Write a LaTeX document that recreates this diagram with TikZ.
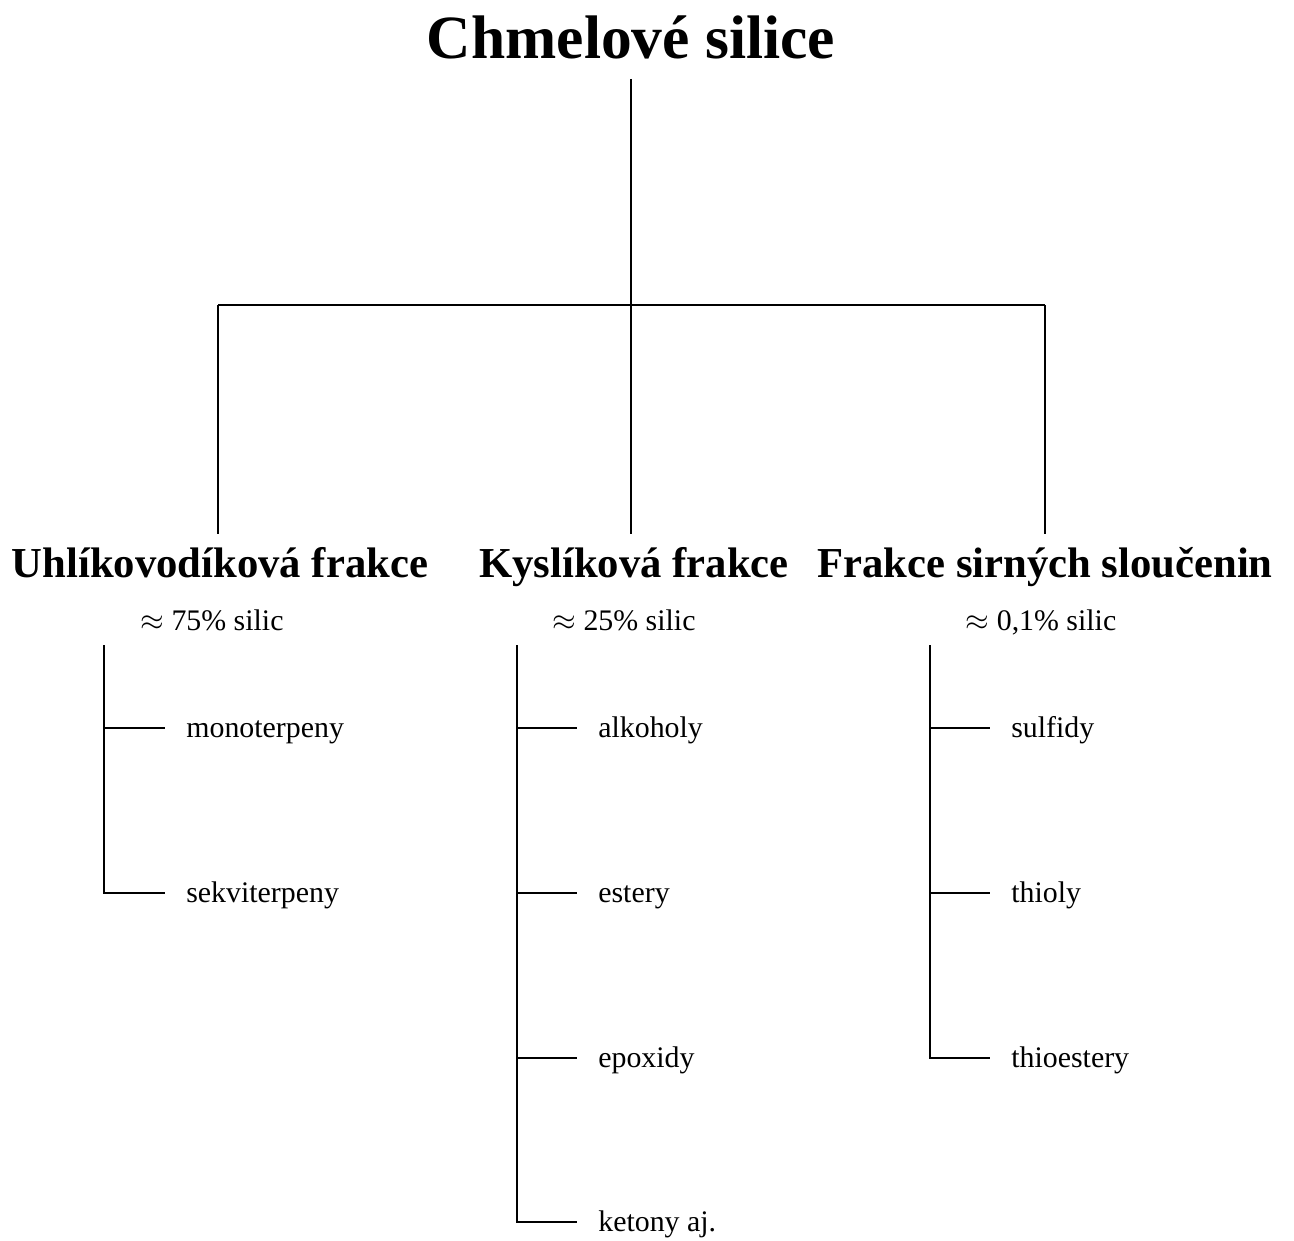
\documentclass[tikz,border=0pt]{standalone}
\usepackage{fontspec}
\setmainfont{Liberation Serif}
\usetikzlibrary{positioning}

\begin{document}
\begin{tikzpicture}[x=0.02cm, y=-0.02cm,
  titulek/.style={font=\bfseries\fontsize{35}{40}\selectfont, inner sep=0, anchor=base},
  frakce/.style={font=\bfseries\fontsize{24.3}{28}\selectfont, inner sep=0, anchor=base},
  podil/.style={font=\fontsize{17}{20}\selectfont, inner sep=0, anchor=base},
  latka/.style={font=\fontsize{17}{20}\selectfont, inner sep=0, anchor=west, text height=13pt, text depth=2pt},
  vetev/.style={line width=0.7pt},
  list/.style={vetev, shorten >=12pt}]
\useasboundingbox (0,0) rectangle (1294,1240);

% nadpis
\node[titulek] (titul) at (631,59) {Chmelové silice};

% frakce
\node[frakce] (uhl) at (220,577) {Uhlíkovodíková frakce};
\node[frakce] (kys) at (634,577) {Kyslíková frakce};
\node[frakce] (sir) at (1045,577) {Frakce sirných sloučenin};

\node[podil] (puhl) at (212,630) {$\approx$ 75\% silic};
\node[podil] (pkys) at (624,630) {$\approx$ 25\% silic};
\node[podil] (psir) at (1041,630) {$\approx$ 0,1\% silic};

% hlavni rozcesti
\coordinate (hub) at (631,305);
\coordinate (hubL) at (218,305);
\coordinate (hubR) at (1045,305);
\draw[vetev] (hubL) -- (hubR);
\draw[vetev, shorten <=10.8pt] (titul.south) -- (titul.south |- hub);
\draw[vetev, shorten >=7pt] (hubL) -- (hubL |- uhl.north);
\draw[vetev, shorten >=7pt] (hub) -- (hub |- kys.north);
\draw[vetev, shorten >=7pt] (hubR) -- (hubR |- sir.north);

% latky
\coordinate (kmenL) at (104,645);
\coordinate (kmenM) at (517,645);
\coordinate (kmenR) at (930,645);

\node[latka] (mono) at (186,728) {monoterpeny};
\node[latka] (sekv) at (186,893) {sekviterpeny};

\node[latka] (alk) at (598,728) {alkoholy};
\node[latka] (est) at (598,893) {estery};
\node[latka] (epo) at (598,1058) {epoxidy};
\node[latka] (ket) at (598,1222) {ketony aj.};

\node[latka] (sulf) at (1011,728) {sulfidy};
\node[latka] (thio) at (1011,893) {thioly};
\node[latka] (thest) at (1011,1058) {thioestery};

\draw[list] (kmenL) |- (sekv.west);
\draw[list] (kmenL |- mono.west) -- (mono.west);

\draw[list] (kmenM) |- (ket.west);
\foreach \l in {alk, est, epo}
  \draw[list] (kmenM |- \l.west) -- (\l.west);

\draw[list] (kmenR) |- (thest.west);
\foreach \l in {sulf, thio}
  \draw[list] (kmenR |- \l.west) -- (\l.west);
\end{tikzpicture}
\end{document}
